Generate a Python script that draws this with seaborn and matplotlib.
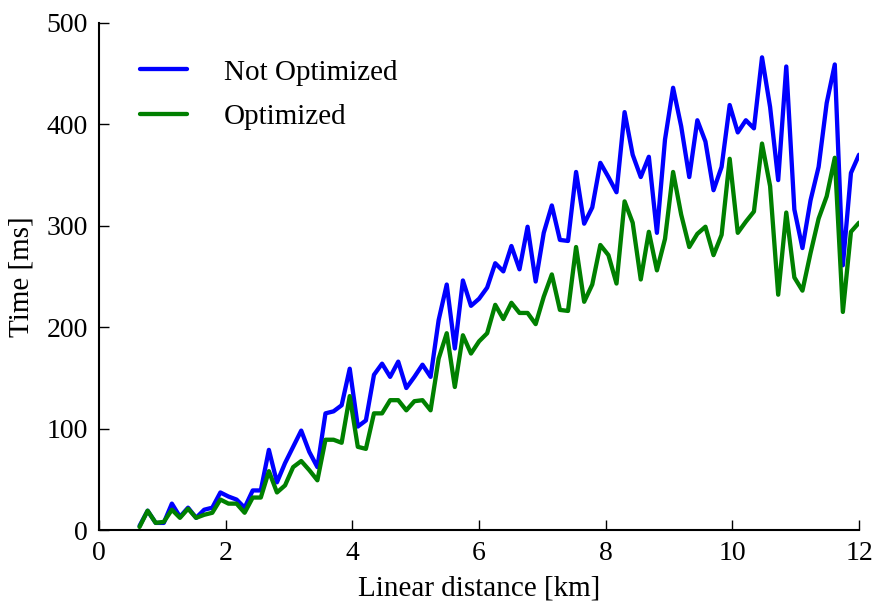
import numpy as np
import pandas as pd
import matplotlib
matplotlib.use("Agg")
import matplotlib.pyplot as plt
import seaborn as sns

distance_km = np.linspace(0.64, 12.0, 90)

not_optimized_ms = [
    4, 19, 7, 7, 26, 13, 22, 12, 20, 22,
    37, 33, 30, 22, 39, 39, 79, 47, 66, 82,
    98, 77, 62, 115, 117, 123, 159, 102, 108, 153,
    164, 151, 166, 140, 151, 163, 151, 207, 242, 179,
    246, 221, 228, 239, 263, 255, 280, 257, 299, 245,
    293, 320, 286, 285, 353, 302, 318, 362, 348, 333,
    412, 370, 348, 368, 293, 385, 436, 398, 348, 404,
    383, 335, 358, 419, 392, 404, 396, 466, 417, 345,
    457, 316, 278, 325, 358, 421, 459, 261, 352, 370,
]

optimized_ms = [
    3, 19, 7, 8, 20, 12, 21, 12, 15, 17,
    30, 26, 26, 17, 32, 32, 58, 37, 44, 62,
    68, 59, 49, 89, 89, 86, 132, 82, 80, 115,
    115, 128, 128, 118, 127, 128, 118, 169, 194, 141,
    192, 174, 186, 194, 222, 208, 224, 214, 214, 203,
    230, 252, 217, 216, 279, 225, 242, 281, 271, 243,
    324, 303, 247, 294, 256, 287, 353, 311, 279, 292,
    299, 271, 291, 366, 293, 304, 314, 381, 339, 232,
    313, 249, 236, 273, 307, 329, 367, 215, 294, 303,
]

labels = ["Not Optimized", "Optimized"]
colors = {"Not Optimized": "#0000ff", "Optimized": "#008000"}

df = pd.concat([
    pd.DataFrame({"distance": distance_km, "time": not_optimized_ms, "series": labels[0]}),
    pd.DataFrame({"distance": distance_km, "time": optimized_ms, "series": labels[1]}),
])

sns.set_style("ticks")
plt.rcParams["font.family"] = ["Liberation Serif", "DejaVu Serif"]
plt.rcParams["xtick.direction"] = "in"
plt.rcParams["ytick.direction"] = "in"
plt.rcParams["text.color"] = "black"
plt.rcParams["axes.labelcolor"] = "black"

fig = plt.figure(figsize=(8.73, 6.02), dpi=100)
ax = fig.add_axes([0.1134, 0.1196, 0.8706, 0.8424])

sns.lineplot(data=df, x="distance", y="time", hue="series", palette=colors,
             linewidth=3.1, ax=ax, errorbar=None)

ax.set_xlim(0, 12)
ax.set_ylim(0, 500)
ax.set_xticks([0, 2, 4, 6, 8, 10, 12])
ax.set_yticks([0, 100, 200, 300, 400, 500])
ax.tick_params(labelsize=20, length=7, width=1, pad=8, colors="black")
ax.set_xlabel("Linear distance [km]", fontsize=21, labelpad=7)
ax.set_ylabel("Time [ms]", fontsize=21, labelpad=9)
for s in ["left", "bottom"]:
    ax.spines[s].set_linewidth(1.5)
    ax.spines[s].set_color("black")
sns.despine(ax=ax)

ax.legend(title=None, frameon=False, fontsize=21, loc="upper left",
          bbox_to_anchor=(0.02, 0.98), handlelength=1.6, handletextpad=1.25,
          labelspacing=0.62)

fig.savefig("out.png", dpi=100)
